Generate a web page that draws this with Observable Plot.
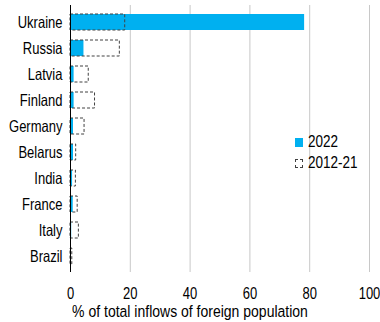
<!DOCTYPE html>
<html><head><meta charset="utf-8">
<script src="https://cdn.jsdelivr.net/npm/d3@7"></script>
<script src="https://cdn.jsdelivr.net/npm/@observablehq/plot@0.6"></script>
<style>
body{margin:0;background:#fff;font-family:"Liberation Sans",Arial,sans-serif;}
#wrap{position:relative;width:380px;height:322px;}
.leg{position:absolute;left:295px;font-size:13.5px;line-height:16px;color:#000;display:flex;align-items:center;}
.leg span,#xt span{display:inline-block;transform:scaleY(1.18);}
.sw{width:8px;height:9px;margin-right:5px;box-sizing:border-box;}
#xt{position:absolute;left:0;top:302px;width:380px;text-align:center;font-size:14px;line-height:18px;color:#000;}
</style></head><body>
<div id="wrap"></div>
<script>
const countries = ["Ukraine","Russia","Latvia","Finland","Germany","Belarus","India","France","Italy","Brazil"];
const v2022 = [78.3, 4.5, 1.2, 1.2, 1.0, 1.0, 0.7, 0.9, 0.4, 0.3];
const v2012_21 = [18.3, 16.5, 6.1, 8.2, 4.7, 1.9, 1.8, 2.4, 2.8, 0.6];
const xTicks = [0, 20, 40, 60, 80, 100];
const seriesLabels = ["2022", "2012-21"];
const xTitle = "% of total inflows of foreign population";

const d22 = countries.map((c,i)=>({country:c, value:v2022[i]}));
const d12 = countries.map((c,i)=>({country:c, value:v2012_21[i]}));

const chart = Plot.plot({
  width: 380, height: 322,
  marginLeft: 70, marginRight: 11, marginTop: 5, marginBottom: 50,
  style: {fontFamily: '"Liberation Sans", Arial, sans-serif', fontSize: "13px", color: "#000", overflow: "visible"},
  x: {domain: [0, 100], ticks: xTicks, label: null},
  y: {domain: countries, paddingInner: 0.4, paddingOuter: 0.18, label: null},
  marks: [
    Plot.gridX(xTicks, {stroke: "#c8c8c8", strokeOpacity: 1}),
    Plot.axisX({ticks: xTicks, tickSize: 0, tickPadding: 15, fontSize: 13, label: null}),
    Plot.axisY({tickSize: 0, tickPadding: 8, fontSize: 13}),
    Plot.barX(d22, {y: "country", x: "value", fill: "#00B0F0"}),
    Plot.barX(d12, {y: "country", x: "value", fill: "none", stroke: "#404040", strokeDasharray: "3,2", strokeWidth: 1}),
    Plot.ruleX([0], {stroke: "#000"})
  ]
});
chart.querySelectorAll("text").forEach(t => {
  const tr = t.getAttribute("transform");
  if (tr) t.setAttribute("transform", tr + " scale(1,1.22)");
});
const wrap = document.getElementById("wrap");
wrap.appendChild(chart);
const l1 = document.createElement("div");
l1.className = "leg"; l1.style.top = "134px";
l1.innerHTML = '<div class="sw" style="background:#00B0F0"></div><span>' + seriesLabels[0] + '</span>';
const l2 = document.createElement("div");
l2.className = "leg"; l2.style.top = "155px";
l2.innerHTML = '<div class="sw" style="border:1px dashed #404040"></div><span>' + seriesLabels[1] + '</span>';
const xt = document.createElement("div");
xt.id = "xt"; xt.innerHTML = '<span>' + xTitle + '</span>';
wrap.appendChild(l1); wrap.appendChild(l2); wrap.appendChild(xt);
</script>
</body></html>
